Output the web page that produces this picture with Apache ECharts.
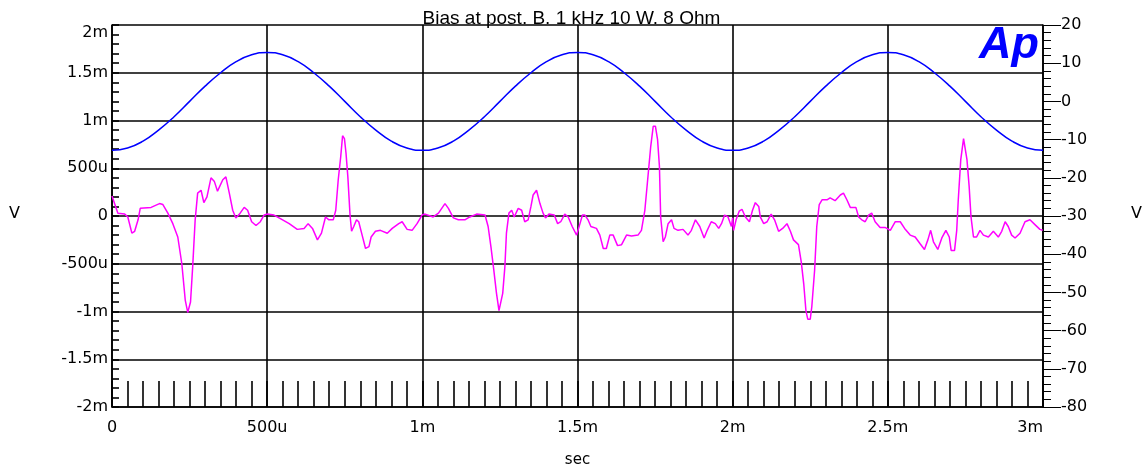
<!DOCTYPE html>
<html>
<head>
<meta charset="utf-8">
<script src="https://cdn.jsdelivr.net/npm/echarts@6/dist/echarts.min.js"></script>
<style>html,body{margin:0;padding:0;background:#fff}#chart{width:1143px;height:472px}</style>
</head>
<body>
<div id="chart"></div>
<script>
// x in ms, left axis in mV, right axis in V
const xTickLabels = ['0', '500u', '1m', '1.5m', '2m', '2.5m', '3m']
const leftTickLabels = ['-2m', '-1.5m', '-1m', '-500u', '0', '500u', '1m', '1.5m', '2m']

// blue trace (right axis, V), one sample every 50 us from 0 to 3 ms
const blueStepMs = 0.05
const blueValues = [
  -12.8, -12.2, -10.4, -7.5, -4.0, 0, 4.0, 7.5, 10.4, 12.2,
  12.8, 12.2, 10.4, 7.5, 4.0, 0, -4.0, -7.5, -10.4, -12.2,
  -12.8, -12.2, -10.4, -7.5, -4.0, 0, 4.0, 7.5, 10.4, 12.2,
  12.8, 12.2, 10.4, 7.5, 4.0, 0, -4.0, -7.5, -10.4, -12.2,
  -12.8, -12.2, -10.4, -7.5, -4.0, 0, 4.0, 7.5, 10.4, 12.2,
  12.8, 12.2, 10.4, 7.5, 4.0, 0, -4.0, -7.5, -10.4, -12.2,
  -12.8
]

// magenta trace (left axis, mV)
const pinkTime = [
  0, 0.019, 0.041, 0.051, 0.064, 0.073, 0.084, 0.091, 0.126, 0.153, 0.164, 0.180, 0.196, 0.212, 0.225, 0.236,
  0.244, 0.253, 0.260, 0.268, 0.276, 0.287, 0.296, 0.306, 0.319, 0.330, 0.340, 0.357, 0.367, 0.378, 0.389, 0.399,
  0.413, 0.426, 0.437, 0.450, 0.464, 0.478, 0.490, 0.501, 0.522, 0.544, 0.571, 0.597, 0.619, 0.632, 0.646, 0.662,
  0.675, 0.688, 0.699, 0.713, 0.721, 0.729, 0.737, 0.743, 0.749, 0.754, 0.760, 0.767, 0.772, 0.779, 0.788, 0.795,
  0.806, 0.817, 0.828, 0.835, 0.849, 0.865, 0.887, 0.903, 0.924, 0.935, 0.951, 0.967, 0.983, 0.999,
  1.009, 1.035, 1.052, 1.073, 1.084, 1.100, 1.116, 1.137, 1.153, 1.175, 1.202, 1.212, 1.221, 1.229, 1.239, 1.247,
  1.253, 1.259, 1.266, 1.271, 1.279, 1.288, 1.296, 1.309, 1.320, 1.330, 1.341, 1.350, 1.357, 1.368, 1.379, 1.389,
  1.397, 1.408, 1.425, 1.436, 1.446, 1.459, 1.470, 1.483, 1.497, 1.508, 1.516, 1.524, 1.534, 1.543, 1.561, 1.572,
  1.583, 1.593, 1.604, 1.615, 1.629, 1.642, 1.658, 1.674, 1.695, 1.706, 1.717, 1.725, 1.736, 1.744, 1.751, 1.758,
  1.764, 1.768, 1.776, 1.783, 1.792, 1.803, 1.811, 1.824, 1.840, 1.856, 1.867, 1.880, 1.894, 1.908, 1.918, 1.931,
  1.944, 1.955, 1.964, 1.974, 1.985, 1.996,
  2.000, 2.003, 2.011, 2.021, 2.030, 2.041, 2.054, 2.064, 2.073, 2.084, 2.089, 2.100, 2.111, 2.124, 2.135, 2.148,
  2.161, 2.175, 2.186, 2.196, 2.212, 2.221, 2.229, 2.236, 2.242, 2.250, 2.255, 2.264, 2.271, 2.279, 2.288, 2.304,
  2.314, 2.330, 2.347, 2.357, 2.368, 2.379, 2.397, 2.406, 2.416, 2.427, 2.438, 2.448, 2.459, 2.475, 2.491, 2.508,
  2.524, 2.540, 2.554, 2.572, 2.588, 2.604, 2.618, 2.629, 2.638, 2.647, 2.661, 2.674, 2.687, 2.698, 2.704, 2.715,
  2.722, 2.727, 2.735, 2.744, 2.749, 2.755, 2.762, 2.768, 2.776, 2.786, 2.797, 2.808, 2.824, 2.840, 2.856, 2.867,
  2.878, 2.888, 2.899, 2.910, 2.926, 2.942, 2.958, 2.974, 2.990, 2.999
]
const pinkValues = [
  0.21, 0.03, 0.02, -0.01, -0.18, -0.16, -0.04, 0.08, 0.09, 0.13, 0.12, 0.03, -0.08, -0.22, -0.50, -0.88,
  -1.01, -0.90, -0.53, -0.04, 0.24, 0.27, 0.14, 0.20, 0.40, 0.36, 0.26, 0.38, 0.41, 0.24, 0.06, -0.02,
  0.03, 0.09, 0.06, -0.06, -0.10, -0.06, 0.01, 0.02, 0.01, -0.03, -0.08, -0.14, -0.13, -0.08, -0.13, -0.25,
  -0.18, -0.01, -0.04, -0.04, 0.06, 0.38, 0.62, 0.84, 0.81, 0.66, 0.41, 0.01, -0.16, -0.11, -0.04, -0.06,
  -0.20, -0.34, -0.32, -0.22, -0.16, -0.15, -0.18, -0.13, -0.08, -0.06, -0.14, -0.15, -0.08, 0.01,
  0.02, -0.01, 0.03, 0.13, 0.08, -0.02, -0.04, -0.04, -0.01, 0.02, 0.01, -0.11, -0.32, -0.53, -0.81, -0.99,
  -0.99, -0.81, -0.53, -0.18, 0.03, 0.06, -0.01, 0.08, 0.06, -0.06, -0.04, 0.10, 0.22, 0.27, 0.13, 0.03,
  -0.02, 0.02, 0.01, -0.08, -0.06, 0.02, -0.01, -0.11, -0.20, -0.08, 0.01, 0.01, -0.04, -0.11, -0.13, -0.20,
  -0.34, -0.34, -0.20, -0.20, -0.31, -0.30, -0.20, -0.21, -0.20, -0.15, 0.06, 0.34, 0.73, 0.94, 0.94, 0.80,
  0.52, -0.01, -0.27, -0.22, -0.08, -0.04, -0.13, -0.15, -0.14, -0.20, -0.15, -0.04, -0.11, -0.23, -0.15, -0.06,
  -0.08, -0.13, -0.08, 0.01, -0.01, -0.11,
  -0.02, -0.15, -0.04, 0.05, 0.07, -0.01, -0.06, 0.06, 0.14, 0.10, -0.01, -0.08, -0.06, 0.02, -0.04, -0.16,
  -0.13, -0.08, -0.16, -0.25, -0.30, -0.48, -0.71, -0.99, -1.08, -1.08, -0.95, -0.57, -0.11, 0.12, 0.17, 0.17,
  0.19, 0.16, 0.22, 0.24, 0.17, 0.09, 0.09, -0.01, -0.04, -0.06, 0.01, 0.03, -0.06, -0.12, -0.12, -0.15,
  -0.06, -0.06, -0.13, -0.20, -0.22, -0.29, -0.35, -0.25, -0.15, -0.27, -0.35, -0.23, -0.15, -0.22, -0.36, -0.36,
  -0.15, 0.17, 0.59, 0.81, 0.80, 0.59, 0.31, -0.01, -0.22, -0.22, -0.15, -0.20, -0.22, -0.16, -0.22, -0.16,
  -0.06, -0.11, -0.20, -0.23, -0.18, -0.06, -0.04, -0.09, -0.14, -0.15
]

const FONT = '"DejaVu Sans", sans-serif'
const black = { color: '#000', width: 1.6 }

const chart = echarts.init(document.getElementById('chart'))
chart.setOption({
  animation: false,
  backgroundColor: '#fff',
  title: {
    text: 'Bias at post. B. 1 kHz 10 W. 8 Ohm',
    left: 'center', top: 4,
    textStyle: { fontFamily: '"Liberation Sans", sans-serif', fontSize: 19, fontWeight: 'normal', color: '#000' }
  },
  grid: { left: 112, right: 100, top: 25, bottom: 65, outerBoundsMode: 'none' },
  xAxis: {
    type: 'value', min: 0, max: 3, interval: 0.5,
    name: 'sec', nameLocation: 'middle', nameGap: 46,
    nameTextStyle: { fontFamily: FONT, fontSize: 15, color: '#000' },
    axisLine: { onZero: false, lineStyle: black },
    axisTick: { show: true, inside: true, length: 26, lineStyle: black },
    minorTick: { show: true, splitNumber: 10, length: 26, lineStyle: black },
    splitLine: { show: true, lineStyle: black },
    axisLabel: {
      margin: 13, color: '#000', fontFamily: FONT, fontSize: 16,
      alignMaxLabel: 'right',
      formatter: v => xTickLabels[Math.round(v / 0.5)]
    }
  },
  yAxis: [
    {
      type: 'value', position: 'left', min: -2, max: 2, interval: 0.5,
      axisLine: { show: true, onZero: false, lineStyle: black },
      axisTick: { show: true, inside: true, length: 7, lineStyle: black },
      minorTick: { show: true, splitNumber: 5, length: 7, lineStyle: black },
      splitLine: { show: true, lineStyle: black },
      axisLabel: {
        margin: 4, color: '#000', fontFamily: FONT, fontSize: 16,
        verticalAlignMaxLabel: 'top',
        formatter: v => leftTickLabels[Math.round((v + 2) / 0.5)]
      }
    },
    {
      type: 'value', position: 'right', min: -80, max: 20, interval: 10,
      axisLine: { show: true, onZero: false, lineStyle: black },
      axisTick: { show: true, inside: false, length: 18, lineStyle: { color: '#000', width: 1 } },
      minorTick: { show: true, splitNumber: 5, length: 8, lineStyle: { color: '#000', width: 1 } },
      splitLine: { show: false },
      axisLabel: { margin: 18, color: '#000', fontFamily: FONT, fontSize: 16 }
    }
  ],
  graphic: [
    { type: 'text', left: 9, top: 206, style: { text: 'V', font: '16px ' + FONT, fill: '#000' } },
    { type: 'text', left: 1131, top: 206, style: { text: 'V', font: '16px ' + FONT, fill: '#000' } },
    { type: 'text', left: 979, top: 23, style: { text: 'Ap', font: 'italic bold 45px "Liberation Sans", sans-serif', fill: '#0000ff' } }
  ],
  series: [
    {
      type: 'line', yAxisIndex: 1, showSymbol: false, smooth: true,
      lineStyle: { color: '#0000ff', width: 1.5 },
      data: blueValues.map((v, i) => [i * blueStepMs, v])
    },
    {
      type: 'line', yAxisIndex: 0, showSymbol: false,
      lineStyle: { color: '#ff00ff', width: 1.5 },
      data: pinkTime.map((t, i) => [t, pinkValues[i]])
    }
  ]
})
</script>
</body>
</html>
